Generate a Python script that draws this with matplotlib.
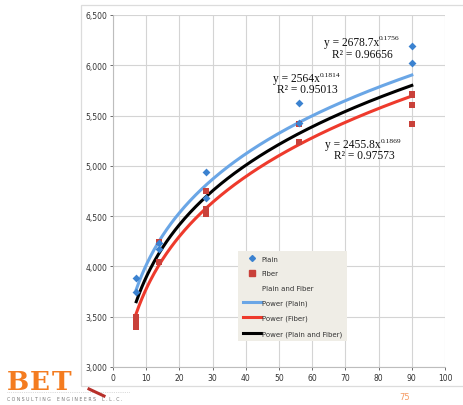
import numpy as np
import matplotlib.pyplot as plt
from matplotlib.lines import Line2D
from matplotlib.patches import Rectangle
from matplotlib.ticker import FuncFormatter

# test results by age (days)
plain_days = [7, 7, 14, 14, 28, 28, 56, 56, 90, 90]
plain_psi = [3880, 3745, 4230, 4170, 4940, 4680, 5625, 5430, 6190, 6020]
fiber_days = [7, 7, 7, 7, 14, 14, 28, 28, 28, 56, 56, 90, 90, 90, 90]
fiber_psi = [3500, 3460, 3425, 3400, 4240, 4045, 4750, 4570, 4520, 5415, 5235, 5715, 5700, 5605, 5420]

# power-law trendlines: (a, b, R^2) for y = a * x^b
fit_plain = (2678.7, 0.1756, 0.96656)
fit_fiber = (2455.8, 0.1869, 0.97573)
fit_both = (2564, 0.1814, 0.95013)

W, H = 464, 406
fig = plt.figure(figsize=(W / 100, H / 100), dpi=100)
fig.patch.set_facecolor('white')

# chart frame
fig.patches.append(Rectangle((81 / W, 1 - 387 / H), (W - 78) / W, 381 / H,
                             transform=fig.transFigure, fill=False,
                             edgecolor='#dcdcdc', lw=0.9))

ax = fig.add_axes([113 / W, 1 - 368 / H, 332 / W, 352 / H])
ax.set_xlim(0, 100)
ax.set_ylim(3000, 6500)
ax.set_xticks(np.arange(0, 101, 10))
ax.set_yticks(np.arange(3000, 6501, 500))
ax.yaxis.set_major_formatter(FuncFormatter(lambda v, p: f'{int(v):,}'))
ax.grid(True, color='#d4d4d4', lw=0.8)
ax.set_axisbelow(True)
for s in ax.spines.values():
    s.set_visible(False)
ax.spines['left'].set_visible(True)
ax.spines['bottom'].set_visible(True)
ax.spines['left'].set_color('#bdbdbd')
ax.spines['bottom'].set_color('#bdbdbd')
ax.tick_params(labelsize=5.5, colors='#555555', length=2, width=0.6, pad=2,
               labelcolor='#333333')

xs = np.linspace(7, 90, 200)
curve_colors = {'plain': '#6aa6e6', 'fiber': '#ee3a2c', 'both': '#000000'}
ax.plot(xs, fit_plain[0] * xs ** fit_plain[1], color=curve_colors['plain'], lw=2.2)
ax.plot(xs, fit_fiber[0] * xs ** fit_fiber[1], color=curve_colors['fiber'], lw=2.2)
ax.plot(xs, fit_both[0] * xs ** fit_both[1], color=curve_colors['both'], lw=2.2)

ax.scatter(fiber_days, fiber_psi, marker='s', s=24, color='#c9413a', zorder=3, lw=0)
ax.scatter(plain_days, plain_psi, marker='D', s=16, color='#3b82d0', zorder=4, lw=0)

# trendline equations: (fit, x where "x" ends, y of eq line, x centre of R2, y of R2)
labels = [(fit_plain, 80.1, 6234, 75.0, 6112),
          (fit_both, 62.4, 5870, 58.4, 5764),
          (fit_fiber, 80.7, 5216, 75.6, 5107)]
serif = dict(family='Liberation Serif', color='#111111')
for (a, b, r2), ex, ey, rx, ry in labels:
    t = ax.text(ex, ey, f'y = {a:g}x', ha='right', va='center', fontsize=8.3, **serif)
    ax.annotate(f'{b:g}', xy=(1, 0.62), xycoords=t, ha='left', va='bottom',
                fontsize=5.4, **serif)
    ax.text(rx, ry, f'R² = {r2:.5f}', ha='center', va='center', fontsize=8.3, **serif)

handles = [
    Line2D([], [], marker='D', color='#3b82d0', ls='none', markersize=3),
    Line2D([], [], marker='s', color='#c9413a', ls='none', markersize=4),
    Line2D([], [], ls='none'),
    Line2D([], [], color=curve_colors['plain'], lw=2.2),
    Line2D([], [], color=curve_colors['fiber'], lw=2.2),
    Line2D([], [], color=curve_colors['both'], lw=2.2),
]
names = ['Plain', 'Fiber', 'Plain and Fiber', 'Power (Plain)', 'Power (Fiber)',
         'Power (Plain and Fiber)']
leg = ax.legend(handles, names, loc='upper left', bbox_to_anchor=(0.377, 0.33),
                fontsize=5.0, frameon=True, fancybox=False, handlelength=2.6,
                handletextpad=0.1, labelspacing=1.25, borderpad=0.7,
                borderaxespad=0)
leg.get_frame().set_facecolor('#efede6')
leg.get_frame().set_edgecolor('none')
leg.get_frame().set_alpha(1)
for t in leg.get_texts():
    t.set_color('#333333')

# company logo
for ch, px in zip('BET', [7, 30, 52]):
    fig.text(px / W, 1 - 390 / H, ch, fontsize=19, color='#f47c20',
             family='DejaVu Serif', weight='bold', ha='left', va='baseline')
fig.add_artist(Line2D([7 / W, 130 / W], [1 - 393 / H, 1 - 393 / H],
                      transform=fig.transFigure, color='#bbbbbb', lw=0.5, ls=':'))
fig.text(7 / W, 1 - 400 / H, 'C O N S U L T I N G    E N G I N E E R S    L . L . C .',
         fontsize=3.3, color='#777777', va='center', ha='left')
fig.add_artist(Line2D([89 / W, 104 / W], [1 - 390 / H, 1 - 397 / H],
                      transform=fig.transFigure, color='#b8302a', lw=2.2))
fig.text(405 / W, 1 - 398 / H, '75', fontsize=6, color='#f59a62', ha='center', va='center')

fig.savefig('out.png', dpi=100)
